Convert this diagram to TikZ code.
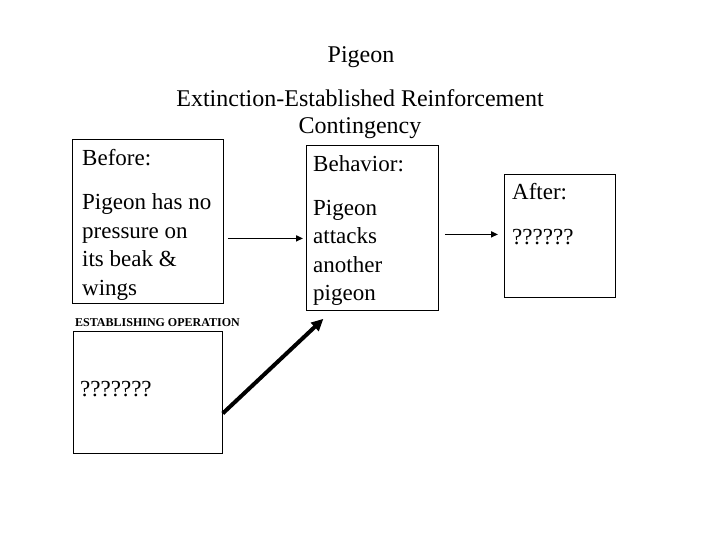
\documentclass[tikz,border=0pt]{standalone}
\usepackage{fontspec}
\setmainfont{Liberation Serif}
\usepackage{tikz}
\usetikzlibrary{arrows.meta,positioning,calc}

\begin{document}
\begin{tikzpicture}[
    x=1pt, y=-1pt,
    box/.style={rectangle, draw=black, line width=0.8pt, inner sep=0pt},
    boxtext/.style={anchor=north west, align=left, inner sep=0pt, font=\fontsize{23}{28.5}\selectfont},
    title/.style={align=center, inner sep=0pt, font=\fontsize{24}{27}\selectfont},
    arrow/.style={-{Triangle[length=7pt, width=6pt]}, line width=1.6pt},
    bigarrow/.style={-{Triangle[length=12pt, width=11pt]}, line width=4pt}
]
    \useasboundingbox (0,0) rectangle (720,540);

    % titles
    \node [title, anchor=base] (head) at (361,63) {Pigeon};
    \node [title, anchor=north] (sub) at (360,89.6) {Extinction-Established Reinforcement\\Contingency};

    % boxes
    \node [box, minimum width=151pt, minimum height=164pt, anchor=north west] (before) at (72,139) {};
    \node [box, minimum width=132pt, minimum height=165pt, anchor=north west] (behavior) at (306,145) {};
    \node [box, minimum width=111pt, minimum height=123pt, anchor=north west] (after) at (504,174) {};
    \node [box, minimum width=149pt, minimum height=122pt, anchor=north west] (estop) at (73,331) {};

    \node [boxtext] (beforetxt) at (82,149.3) {Before:\\[15.5pt]Pigeon has no\\pressure on\\its beak \&\\wings};
    \node [boxtext] (behaviortxt) at (313,155.3) {Behavior:\\[15.5pt]Pigeon\\attacks\\another\\pigeon};
    \node [boxtext] (aftertxt) at (512,183.3) {After:\\[16.5pt]??????};
    \node [boxtext] (estoptxt) at (80,381.5) {???????};
    \node [anchor=base west, inner sep=0pt, font=\fontsize{12}{14}\selectfont\bfseries] (estoplabel) at (75,326) {ESTABLISHING OPERATION};

    % connectors
    \draw [arrow] ([shift={(4,17)}]before.east) -- ([shift={(-3,17)}]before.east -| behavior.west);
    \draw [arrow] ([shift={(6,-1.5)}]behavior.east |- after.west) -- ([shift={(-6,-1.5)}]after.west);
    \draw [bigarrow] ([shift={(0,21)}]estop.east) -- ([shift={(-49,8)}]behavior.south);
\end{tikzpicture}
\end{document}
